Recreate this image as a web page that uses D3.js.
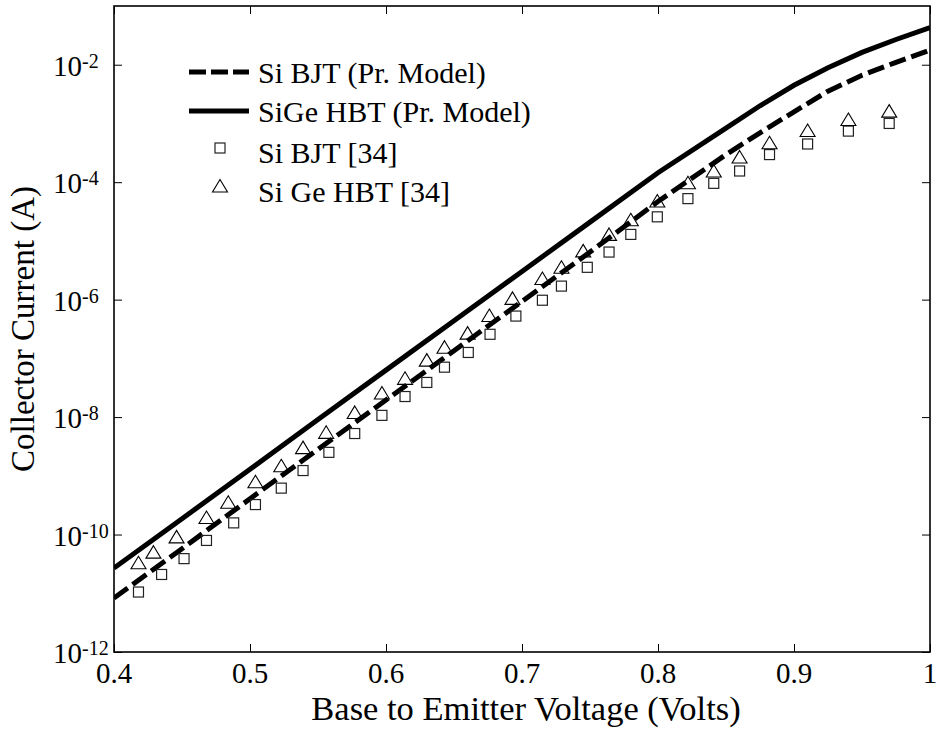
<!DOCTYPE html>
<html>
<head>
<meta charset="utf-8">
<script src="https://cdn.jsdelivr.net/npm/d3@7"></script>
<style>
    body { margin: 0; background: #fff; }
</style>
</head>
<body>
<div id="chart"></div>
<script>
const width = 939;
const height = 731;
const margin = { 'top': 6, 'right': 9, 'bottom': 79, 'left': 114 };
const graphWidth = width - margin.left - margin.right;
const graphHeight = height - margin.top - margin.bottom;
const serif = '"Liberation Serif"';

// model curves (Pr. Model)
const modelVbe = [0.40, 0.45, 0.50, 0.55, 0.60, 0.65, 0.70, 0.75, 0.80, 0.85, 0.875, 0.90, 0.925, 0.95, 0.975, 1.00];
const siBjtModel = [8.3e-12, 5.75e-11, 4.07e-10, 2.82e-9, 1.95e-8, 1.35e-7, 9.33e-7, 6.46e-6, 4.68e-5, 2.95e-4, 6.92e-4, 1.58e-3, 3.55e-3, 6.61e-3, 1.10e-2, 1.78e-2];
const sigeModel = [2.69e-11, 1.86e-10, 1.29e-9, 9.12e-9, 6.31e-8, 4.37e-7, 3.02e-6, 2.09e-5, 1.45e-4, 8.32e-4, 2.00e-3, 4.47e-3, 8.91e-3, 1.62e-2, 2.69e-2, 4.27e-2];

// measured data [34]
const siBjtVbe = [0.418, 0.435, 0.4515, 0.468, 0.488, 0.504, 0.523, 0.539, 0.558, 0.577, 0.597, 0.614, 0.630, 0.643, 0.6605, 0.6765, 0.6955, 0.715, 0.729, 0.748, 0.764, 0.780, 0.7995, 0.822, 0.841, 0.860, 0.882, 0.910, 0.940, 0.970];
const siBjtMeas = [1.05e-11, 2.09e-11, 3.89e-11, 7.94e-11, 1.58e-10, 3.24e-10, 6.17e-10, 1.23e-9, 2.51e-9, 5.25e-9, 1.07e-8, 2.24e-8, 3.89e-8, 7.08e-8, 1.26e-7, 2.57e-7, 5.25e-7, 9.77e-7, 1.70e-6, 3.55e-6, 6.46e-6, 1.29e-5, 2.57e-5, 5.25e-5, 9.55e-5, 1.55e-4, 2.95e-4, 4.47e-4, 7.41e-4, 1.00e-3];
const sigeVbe = [0.418, 0.429, 0.446, 0.468, 0.484, 0.504, 0.523, 0.539, 0.556, 0.577, 0.597, 0.614, 0.630, 0.643, 0.660, 0.676, 0.693, 0.715, 0.729, 0.745, 0.764, 0.780, 0.7995, 0.822, 0.841, 0.860, 0.882, 0.910, 0.940, 0.970];
const sigeMeas = [3.31e-11, 5.01e-11, 9.12e-11, 1.95e-10, 3.55e-10, 7.94e-10, 1.48e-9, 3.02e-9, 5.50e-9, 1.20e-8, 2.57e-8, 4.57e-8, 9.33e-8, 1.55e-7, 2.69e-7, 5.37e-7, 1.05e-6, 2.29e-6, 3.55e-6, 6.76e-6, 1.29e-5, 2.29e-5, 4.79e-5, 9.77e-5, 1.55e-4, 2.69e-4, 4.68e-4, 7.59e-4, 1.17e-3, 1.62e-3];

const xTicks = [0.4, 0.5, 0.6, 0.7, 0.8, 0.9, 1.0];
const xTickLabels = ["0.4", "0.5", "0.6", "0.7", "0.8", "0.9", "1"];
const yTicks = [1e-12, 1e-10, 1e-8, 1e-6, 1e-4, 1e-2];
const yTickExp = ["-12", "-10", "-8", "-6", "-4", "-2"];

const legendNames = ["Si BJT (Pr. Model)", "SiGe HBT (Pr. Model)", "Si BJT [34]", "Si Ge HBT [34]"];

const svg = d3.select('#chart')
    .append('svg')
    .attr('width', width)
    .attr('height', height);

const graph = svg.append('g')
    .attr('transform', `translate(${margin.left}, ${margin.top})`);

const x = d3.scaleLinear()
    .domain([0.4, 1.0])
    .range([0, graphWidth]);

const y = d3.scaleLog()
    .domain([1e-12, 1e-1])
    .range([graphHeight, 0]);

svg.append('clipPath').attr('id', 'clip')
    .append('rect')
    .attr('width', graphWidth)
    .attr('height', graphHeight);

// ticks on all four sides, pointing inward
const tickLen = 8;
const styleAxis = (g) => {
    g.select('.domain').remove();
    g.selectAll('line').attr('stroke', '#000').attr('stroke-width', 1);
};
graph.append('g').attr('transform', `translate(0, ${graphHeight})`)
    .call(d3.axisBottom(x).tickValues(xTicks).tickSize(-tickLen).tickFormat(''))
    .call(styleAxis);
graph.append('g')
    .call(d3.axisTop(x).tickValues(xTicks).tickSize(-tickLen).tickFormat(''))
    .call(styleAxis);
graph.append('g')
    .call(d3.axisLeft(y).tickValues(yTicks).tickSize(-tickLen).tickFormat(''))
    .call(styleAxis);
graph.append('g').attr('transform', `translate(${graphWidth}, 0)`)
    .call(d3.axisRight(y).tickValues(yTicks).tickSize(-tickLen).tickFormat(''))
    .call(styleAxis);

// box
graph.append('rect')
    .attr('width', graphWidth)
    .attr('height', graphHeight)
    .attr('fill', 'none')
    .attr('stroke', '#000')
    .attr('stroke-width', 1.6);

// tick labels
graph.selectAll('.xlab')
    .data(xTicks)
    .enter()
    .append('text')
    .attr('class', 'xlab')
    .attr('x', d => x(d))
    .attr('y', graphHeight + 31)
    .attr('text-anchor', 'middle')
    .style('font-family', serif)
    .style('font-size', '29px')
    .text((d, i) => xTickLabels[i]);

const ylab = graph.selectAll('.ylab')
    .data(yTicks)
    .enter()
    .append('text')
    .attr('class', 'ylab')
    .attr('x', 53 - margin.left)
    .attr('y', d => y(d) + 11)
    .style('font-family', serif)
    .style('font-size', '29px');
ylab.append('tspan').text('10');
ylab.append('tspan')
    .attr('dy', -8)
    .style('font-size', '20px')
    .text((d, i) => yTickExp[i]);

// axis titles
svg.append('text')
    .attr('x', margin.left + graphWidth / 2 + 4)
    .attr('y', 720)
    .attr('text-anchor', 'middle')
    .style('font-family', serif)
    .style('font-size', '34.5px')
    .text('Base to Emitter Voltage (Volts)');

svg.append('text')
    .attr('transform', `translate(34, ${margin.top + graphHeight / 2}) rotate(-90)`)
    .attr('text-anchor', 'middle')
    .style('font-family', serif)
    .style('font-size', '33px')
    .text('Collector Current (A)');

// model lines
const line = d3.line()
    .x(d => x(d[0]))
    .y(d => y(d[1]));

const plot = graph.append('g').attr('clip-path', 'url(#clip)');

plot.append('path')
    .datum(d3.zip(modelVbe, siBjtModel))
    .attr('d', line)
    .attr('fill', 'none')
    .attr('stroke', '#000')
    .attr('stroke-width', 5)
    .attr('stroke-dasharray', '17,6');

plot.append('path')
    .datum(d3.zip(modelVbe, sigeModel))
    .attr('d', line)
    .attr('fill', 'none')
    .attr('stroke', '#000')
    .attr('stroke-width', 5);

// markers
const triPath = 'M0,-6.5L7.5,6L-7.5,6Z';

plot.selectAll('.sq')
    .data(d3.zip(siBjtVbe, siBjtMeas))
    .enter()
    .append('rect')
    .attr('class', 'sq')
    .attr('x', d => x(d[0]) - 5)
    .attr('y', d => y(d[1]) - 5)
    .attr('width', 10)
    .attr('height', 10)
    .attr('fill', 'none')
    .attr('stroke', '#222')
    .attr('stroke-width', 1.2);

plot.selectAll('.tri')
    .data(d3.zip(sigeVbe, sigeMeas))
    .enter()
    .append('path')
    .attr('class', 'tri')
    .attr('d', triPath)
    .attr('transform', d => `translate(${x(d[0])}, ${y(d[1])})`)
    .attr('fill', 'none')
    .attr('stroke', '#000')
    .attr('stroke-width', 1.1);

// legend
const legend = svg.append('g');
const legendY = [72, 111, 150, 189];

legend.append('line')
    .attr('x1', 189).attr('x2', 249)
    .attr('y1', legendY[0]).attr('y2', legendY[0])
    .attr('stroke', '#000').attr('stroke-width', 5)
    .attr('stroke-dasharray', '17,5');
legend.append('line')
    .attr('x1', 189).attr('x2', 249)
    .attr('y1', legendY[1]).attr('y2', legendY[1])
    .attr('stroke', '#000').attr('stroke-width', 5);
legend.append('rect')
    .attr('x', 215).attr('y', legendY[2] - 7)
    .attr('width', 10).attr('height', 10)
    .attr('fill', 'none').attr('stroke', '#222').attr('stroke-width', 1.2);
legend.append('path')
    .attr('d', triPath)
    .attr('transform', `translate(220, ${legendY[3] - 3})`)
    .attr('fill', 'none').attr('stroke', '#000').attr('stroke-width', 1.1);

legend.selectAll('.legtext')
    .data(legendNames)
    .enter()
    .append('text')
    .attr('class', 'legtext')
    .attr('x', 258)
    .attr('y', (d, i) => legendY[i] + 11 + (i > 1 ? 2 : 0))
    .style('font-family', serif)
    .style('font-size', '30px')
    .text(d => d);
</script>
</body>
</html>
